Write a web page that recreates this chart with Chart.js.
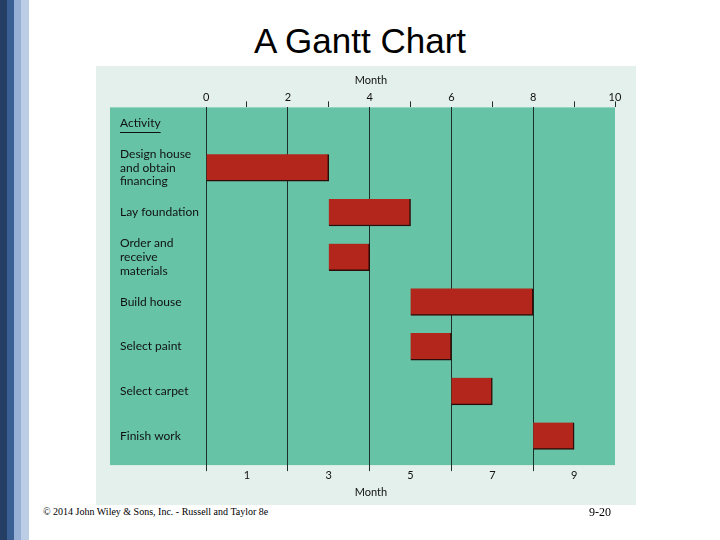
<!DOCTYPE html>
<html>
<head>
<meta charset="utf-8">
<title>A Gantt Chart</title>
<script src="https://cdn.jsdelivr.net/npm/chart.js@4.4.0/dist/chart.umd.min.js"></script>
<style>
  body { margin: 0; width: 720px; height: 540px; position: relative; overflow: hidden; background: #fff; font-family: "Liberation Sans", Arial, sans-serif; }
  .stripe { position: absolute; top: 0; height: 540px; }
  #title { position: absolute; left: 0; top: 21px; width: 720px; text-align: center; font-size: 35px; line-height: 40px; color: #000; }
  #panel { position: absolute; left: 96px; top: 66px; width: 540px; height: 439px; background: #e4f0ec; }
  #copy { position: absolute; left: 43px; top: 505px; font-family: "Liberation Serif", serif; font-size: 10px; line-height: 14px; color: #000; }
  #page { position: absolute; left: 589px; top: 504px; font-family: "Liberation Serif", serif; font-size: 12px; line-height: 16px; color: #000; }
</style>
</head>
<body>
<div class="stripe" style="left:0;width:7px;background:#243f63"></div>
<div class="stripe" style="left:7px;width:7px;background:#3a5f94"></div>
<div class="stripe" style="left:14px;width:7px;background:#98b0d6"></div>
<div class="stripe" style="left:21px;width:8px;background:#bccde6"></div>
<div id="title">A Gantt Chart</div>
<div id="panel"><canvas id="gantt" width="540" height="439"></canvas></div>
<div id="copy">© 2014 John Wiley &amp; Sons, Inc. - Russell and Taylor 8e</div>
<div id="page">9-20</div>
<script>
// row labels (row 0 is the column header)
var activityLabels = [
    'Activity',
    ['Design house', 'and obtain', 'financing'],
    'Lay foundation',
    ['Order and', 'receive', 'materials'],
    'Build house',
    'Select paint',
    'Select carpet',
    'Finish work'
];
var rows = [1, 2, 3, 4, 5, 6, 7];
var startMonth = [0, 3, 3, 5, 5, 6, 8];
var endMonth = [3, 5, 4, 8, 6, 7, 9];
var monthTicks = [0, 1, 2, 3, 4, 5, 6, 7, 8, 9, 10];

var GREEN = '#66c3a6';
var LINE = '#1c2f28';

var greenArea = {
    id: 'greenArea',
    beforeDraw: function (chart) {
        var a = chart.chartArea, ctx = chart.ctx;
        ctx.save();
        ctx.fillStyle = GREEN;
        ctx.fillRect(a.left, a.top, a.right - a.left, a.bottom - a.top);
        ctx.restore();
    },
    afterDraw: function (chart) {
        // underline under the "Activity" header
        var ctx = chart.ctx, y = chart.scales.y.getPixelForValue(0);
        var x0 = chart.chartArea.left + 10;
        ctx.save();
        ctx.font = '12px Lato';
        var w = ctx.measureText(activityLabels[0]).width;
        ctx.strokeStyle = '#111';
        ctx.lineWidth = 1;
        ctx.beginPath();
        ctx.moveTo(x0, Math.round(y + 9) + 0.5);
        ctx.lineTo(x0 + w, Math.round(y + 9) + 0.5);
        ctx.stroke();
        ctx.restore();
    }
};

function setMonthTicks(scale) {
    scale.ticks = monthTicks.map(function (v) { return { value: v }; });
}
function isEven(ctx) {
    return ctx.tick && ctx.tick.value % 2 === 0 && ctx.tick.value < 10;
}

Chart.defaults.font.family = 'Lato';
Chart.defaults.color = '#111';

var gantt = new Chart(document.getElementById('gantt'), {
    type: 'bar',
    data: {
        datasets: [{
            label: 'Activity',
            data: rows.map(function (r, i) { return { x: [startMonth[i], endMonth[i]], y: r }; }),
            backgroundColor: '#b3261b',
            borderColor: '#2a0d08',
            borderWidth: { top: 0, left: 0, right: 1.5, bottom: 1.5 },
            borderSkipped: false,
            barThickness: 27
        }]
    },
    options: {
        indexAxis: 'y',
        responsive: false,
        animation: false,
        layout: { padding: { left: 14, right: 21, top: 8, bottom: 6 } },
        plugins: { legend: { display: false }, tooltip: { enabled: false } },
        scales: {
            x: {
                type: 'linear',
                position: 'top',
                min: -2.35,
                max: 10,
                bounds: 'data',
                afterBuildTicks: setMonthTicks,
                border: { display: false },
                grid: {
                    color: function (ctx) { return isEven(ctx) ? LINE : 'transparent'; },
                    tickColor: function (ctx) { return isEven(ctx) ? 'transparent' : LINE; },
                    tickLength: 6,
                    lineWidth: 1
                },
                ticks: {
                    autoSkip: false,
                    maxRotation: 0,
                    padding: -2.5,
                    font: { size: 11 },
                    callback: function (v) { return v % 2 === 0 ? String(v) : ''; }
                },
                title: { display: true, text: '      Month', font: { size: 11 }, padding: { top: 0, bottom: 6 } }
            },
            x2: {
                type: 'linear',
                position: 'bottom',
                min: -2.35,
                max: 10,
                bounds: 'data',
                afterBuildTicks: setMonthTicks,
                border: { display: false },
                grid: {
                    drawOnChartArea: false,
                    tickColor: function (ctx) { return isEven(ctx) ? LINE : 'transparent'; },
                    tickLength: 6
                },
                ticks: {
                    autoSkip: false,
                    maxRotation: 0,
                    padding: -2,
                    font: { size: 11 },
                    callback: function (v) { return v % 2 === 1 ? String(v) : ''; }
                },
                title: { display: true, text: '      Month', font: { size: 11 }, padding: { top: 5.5, bottom: 0 } }
            },
            y: {
                type: 'linear',
                reverse: true,
                offset: false,
                min: -0.35,
                max: 7.65,
                bounds: 'data',
                afterBuildTicks: function (scale) {
                    scale.ticks = activityLabels.map(function (_, i) { return { value: i }; });
                },
                afterFit: function (scale) {
                    scale.width = 0;
                    scale.paddingTop = 0;
                    scale.paddingBottom = 0;
                },
                border: { display: false },
                grid: { display: false, offset: false },
                ticks: {
                    mirror: true,
                    autoSkip: false,
                    padding: 10,
                    font: { size: 12, lineHeight: 1.15 },
                    callback: function (v) { return activityLabels[v]; }
                }
            }
        }
    },
    plugins: [greenArea]
});
</script>
</body>
</html>
